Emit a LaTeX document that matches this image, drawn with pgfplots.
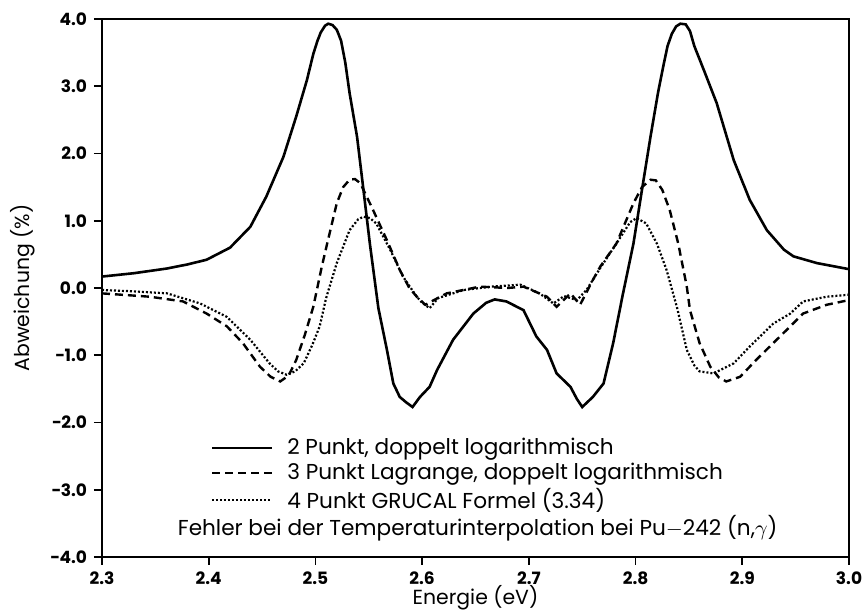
\documentclass[border=0pt]{standalone}
\usepackage{pgfplots}
\pgfplotsset{compat=1.18}
\usepackage{fontspec}
\setmainfont{Poppins}
\begin{document}
\begin{tikzpicture}
\useasboundingbox (-51pt,-28pt) rectangle (383pt,278.5pt);
\begin{axis}[
  scale only axis, width=373.5pt, height=269pt,
  xmin=2.3, xmax=3.0, ymin=-4, ymax=4,
  axis line style={line width=1.2pt},
  xtick={2.3,2.4,2.5,2.6,2.7,2.8,2.9,3.0},
  xticklabels={2.3,2.4,2.5,2.6,2.7,2.8,2.9,3.0},
  ytick={-4,-3,-2,-1,0,1,2,3,4},
  yticklabels={−4.0,−3.0,−2.0,−1.0,0.0,1.0,2.0,3.0,4.0},
  tick align=outside, xtick pos=left, ytick pos=left,
  major tick length=4pt,
  tick style={line width=0.8pt, black},
  tick label style={font=\bfseries\fontsize{8.5}{10}\selectfont},
  xlabel={Energie (eV)}, ylabel={Abweichung (\%)},
  label style={font=\fontsize{10.2}{12}\selectfont},
  xlabel style={yshift=6.5pt},
  ylabel style={yshift=1pt},
  clip=false,
  legend style={draw=none, fill=none, at={(0.145,0.229)}, anchor=north west,
    inner sep=0pt, font=\fontsize{10.8}{12}\selectfont, row sep=-1.2pt,
    legend cell align=left},
  legend image code/.code={\draw[#1] (0pt,0pt) -- (30pt,0pt); \path (35pt,0pt);},
]
\addplot[black, line width=1.3pt] coordinates {
(2.300,0.17) (2.330,0.22) (2.361,0.29) (2.380,0.35) (2.398,0.42) (2.420,0.60) (2.439,0.91) (2.454,1.36) (2.470,1.95) (2.482,2.55) (2.492,3.09) (2.498,3.48) (2.502,3.68) (2.505,3.80) (2.509,3.90) (2.512,3.93) (2.516,3.91) (2.520,3.84) (2.524,3.68) (2.528,3.35) (2.532,2.90) (2.539,2.25) (2.545,1.46) (2.551,0.66) (2.559,-0.30) (2.567,-0.92) (2.573,-1.42) (2.579,-1.62) (2.585,-1.70) (2.591,-1.77) (2.598,-1.62) (2.607,-1.47) (2.614,-1.22) (2.629,-0.77) (2.648,-0.38) (2.660,-0.22) (2.668,-0.17) (2.679,-0.20) (2.695,-0.33) (2.707,-0.72) (2.717,-0.92) (2.726,-1.27) (2.739,-1.47) (2.745,-1.65) (2.750,-1.77) (2.760,-1.62) (2.770,-1.42) (2.779,-0.82) (2.788,-0.10) (2.798,0.66) (2.806,1.46) (2.814,2.25) (2.821,2.90) (2.826,3.30) (2.830,3.60) (2.834,3.78) (2.838,3.89) (2.842,3.93) (2.847,3.92) (2.851,3.82) (2.855,3.60) (2.860,3.40) (2.864,3.24) (2.876,2.75) (2.892,1.90) (2.907,1.31) (2.923,0.86) (2.939,0.57) (2.948,0.47) (2.970,0.37) (3.000,0.28)
};
\addlegendentry{2 Punkt, doppelt logarithmisch}
\addplot[black, line width=1.2pt, dash pattern=on 4pt off 2.5pt] coordinates {
(2.300,-0.08) (2.345,-0.13) (2.376,-0.20) (2.398,-0.38) (2.417,-0.57) (2.432,-0.82) (2.448,-1.17) (2.458,-1.32) (2.467,-1.39) (2.475,-1.30) (2.482,-1.07) (2.490,-0.70) (2.498,-0.28) (2.506,0.32) (2.511,0.66) (2.520,1.26) (2.526,1.50) (2.532,1.61) (2.537,1.62) (2.542,1.56) (2.554,1.16) (2.567,0.71) (2.579,0.27) (2.588,0.00) (2.595,-0.13) (2.603,-0.25) (2.611,-0.18) (2.623,-0.08) (2.654,0.02) (2.680,0.00) (2.695,0.02) (2.717,-0.13) (2.726,-0.28) (2.739,-0.08) (2.748,-0.25) (2.760,0.12) (2.767,0.32) (2.782,0.66) (2.798,1.26) (2.806,1.50) (2.814,1.61) (2.819,1.60) (2.825,1.46) (2.832,1.16) (2.840,0.66) (2.848,0.02) (2.851,-0.33) (2.860,-0.82) (2.870,-1.17) (2.878,-1.33) (2.885,-1.39) (2.898,-1.32) (2.913,-1.07) (2.929,-0.82) (2.945,-0.57) (2.957,-0.38) (2.979,-0.25) (3.000,-0.18)
};
\addlegendentry{3 Punkt Lagrange, doppelt logarithmisch}
\addplot[black, line width=1.1pt, dash pattern=on 1pt off 1pt] coordinates {
(2.300,-0.03) (2.330,-0.05) (2.361,-0.08) (2.392,-0.23) (2.417,-0.43) (2.439,-0.77) (2.457,-1.12) (2.465,-1.24) (2.473,-1.29) (2.481,-1.24) (2.489,-1.12) (2.497,-0.85) (2.504,-0.57) (2.510,-0.15) (2.520,0.37) (2.532,0.86) (2.540,1.02) (2.545,1.06) (2.551,1.04) (2.557,0.96) (2.570,0.57) (2.582,0.17) (2.595,-0.13) (2.600,-0.22) (2.607,-0.30) (2.615,-0.15) (2.639,-0.03) (2.665,0.02) (2.692,0.05) (2.710,-0.08) (2.723,-0.23) (2.733,-0.12) (2.745,-0.18) (2.754,-0.03) (2.767,0.30) (2.782,0.66) (2.795,0.98) (2.801,1.04) (2.810,0.96) (2.820,0.66) (2.829,0.27) (2.839,-0.30) (2.848,-0.92) (2.855,-1.15) (2.860,-1.24) (2.873,-1.27) (2.892,-1.12) (2.907,-0.87) (2.929,-0.53) (2.945,-0.38) (2.957,-0.20) (2.979,-0.13) (3.000,-0.10)
};
\addlegendentry{4 Punkt GRUCAL Formel (3.34)}
\node[font=\fontsize{10.8}{12}\selectfont] at (axis cs:2.652,-3.57) {Fehler bei der Temperaturinterpolation bei Pu$-$242 (n,$\gamma$)};
\end{axis}
\end{tikzpicture}
\end{document}
